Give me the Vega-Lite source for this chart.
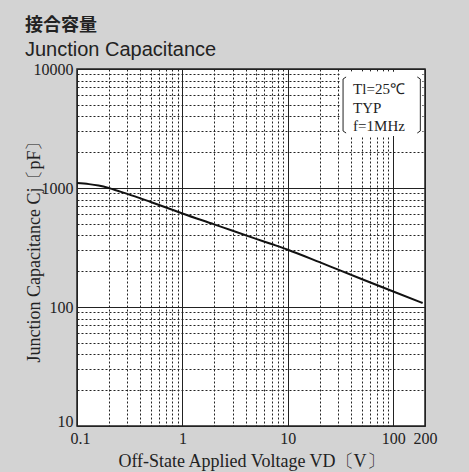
{
  "$schema": "https://vega.github.io/schema/vega-lite/v6.json",
  "autosize": {"type": "none"},
  "width": 348,
  "height": 357,
  "padding": {"left": 77, "top": 69, "right": 44, "bottom": 46},
  "background": "#d3d3d3",
  "title": {
    "text": "接合容量",
    "subtitle": "Junction Capacitance",
    "anchor": "start",
    "frame": "group",
    "dx": -52,
    "offset": 1,
    "font": "Noto Sans CJK JP",
    "fontSize": 18,
    "fontWeight": "bold",
    "color": "#222",
    "subtitleFont": "Liberation Sans",
    "subtitleFontSize": 20,
    "subtitleColor": "#222",
    "subtitlePadding": 5
  },
  "config": {
    "view": {"fill": "white", "stroke": "#222", "strokeWidth": 1.5},
    "axis": {
      "domain": false,
      "ticks": false,
      "labelFont": "Liberation Serif",
      "labelFontSize": 16,
      "labelColor": "#222",
      "titleFont": "Liberation Serif",
      "titleFontSize": 18,
      "titleFontWeight": "normal",
      "titleColor": "#222",
      "gridColor": "#222",
      "gridOpacity": 1,
      "gridWidth": 1,
      "labelFlush": false,
      "labelOverlap": false
    }
  },
  "datasets": {
    "curve": [
      {"x": 0.1, "y": 1100},
      {"x": 0.13, "y": 1078},
      {"x": 0.16, "y": 1048},
      {"x": 0.2, "y": 1000},
      {"x": 0.25, "y": 940},
      {"x": 0.3, "y": 893},
      {"x": 0.5, "y": 763},
      {"x": 0.7, "y": 686},
      {"x": 1, "y": 611},
      {"x": 2, "y": 495},
      {"x": 3, "y": 437},
      {"x": 5, "y": 374},
      {"x": 7, "y": 338},
      {"x": 10, "y": 303},
      {"x": 20, "y": 238},
      {"x": 30, "y": 206},
      {"x": 50, "y": 172},
      {"x": 100, "y": 135},
      {"x": 190, "y": 108}
    ],
    "box": [
      {"x": 31.3, "x2": 189, "y": 9500, "y2": 2735}
    ],
    "brackets": [
      {"b": "L", "o": 1, "x": 35.7, "y": 8570},
      {"b": "L", "o": 2, "x": 33.4, "y": 8240},
      {"b": "L", "o": 3, "x": 33.4, "y": 3013},
      {"b": "L", "o": 4, "x": 35.7, "y": 2897},
      {"b": "R", "o": 1, "x": 169, "y": 8570},
      {"b": "R", "o": 2, "x": 180.6, "y": 8240},
      {"b": "R", "o": 3, "x": 180.6, "y": 3013},
      {"b": "R", "o": 4, "x": 169, "y": 2897}
    ],
    "notes": [
      {"x": 41.6, "y": 6790, "t": "Tl=25℃"},
      {"x": 41.6, "y": 4730, "t": "TYP"},
      {"x": 41.6, "y": 3320, "t": "f=1MHz"}
    ]
  },
  "encoding": {
    "x": {
      "field": "x",
      "type": "quantitative",
      "scale": {"type": "log", "domain": [0.1, 200], "nice": false},
      "axis": {
        "title": "Off-State Applied Voltage VD〔V〕",
        "values": [0.1, 0.2, 0.3, 0.4, 0.5, 0.6, 0.7, 0.8, 0.9, 1, 2, 3, 4, 5, 6, 7, 8, 9, 10, 20, 30, 40, 50, 60, 70, 80, 90, 100, 200],
        "format": "~g",
        "labelExpr": "indexof([0.1, 1, 10, 100, 200], datum.value) >= 0 ? datum.label : ''",
        "labelPadding": 4,
        "labelOffset": {"condition": {"test": "datum.value == 0.1", "value": 3}, "value": 0},
        "titlePadding": 6,
        "gridDash": {"condition": {"test": "indexof([0.1, 1, 10, 100, 200], datum.value) >= 0", "value": []}, "value": [2, 2]}
      }
    },
    "y": {
      "field": "y",
      "type": "quantitative",
      "scale": {"type": "log", "domain": [10, 10000], "nice": false},
      "axis": {
        "title": "Junction Capacitance Cj〔pF〕",
        "values": [10, 20, 30, 40, 50, 60, 70, 80, 90, 100, 200, 300, 400, 500, 600, 700, 800, 900, 1000, 2000, 3000, 4000, 5000, 6000, 7000, 8000, 9000, 10000],
        "format": "~g",
        "labelExpr": "indexof([10, 100, 1000, 10000], datum.value) >= 0 ? datum.label : ''",
        "labelPadding": 4,
        "labelBaseline": {"condition": {"test": "datum.value == 10", "value": "alphabetic"}, "value": "middle"},
        "titleX": -34,
        "titleY": 178,
        "gridDash": {"condition": {"test": "indexof([10, 100, 1000, 10000], datum.value) >= 0", "value": []}, "value": [2, 2]}
      }
    }
  },
  "layer": [
    {
      "data": {"name": "box"},
      "mark": {"type": "rect", "fill": "white"},
      "encoding": {"x2": {"field": "x2"}, "y2": {"field": "y2"}}
    },
    {
      "data": {"name": "brackets"},
      "mark": {"type": "line", "color": "#222", "strokeWidth": 1},
      "encoding": {"detail": {"field": "b"}, "order": {"field": "o"}}
    },
    {
      "data": {"name": "notes"},
      "mark": {"type": "text", "align": "left", "baseline": "middle", "font": "Liberation Serif", "fontSize": 15, "color": "#222"},
      "encoding": {"text": {"field": "t"}}
    },
    {
      "data": {"name": "curve"},
      "mark": {"type": "line", "color": "#111", "strokeWidth": 2, "interpolate": "monotone"},
      "encoding": {}
    }
  ]
}
